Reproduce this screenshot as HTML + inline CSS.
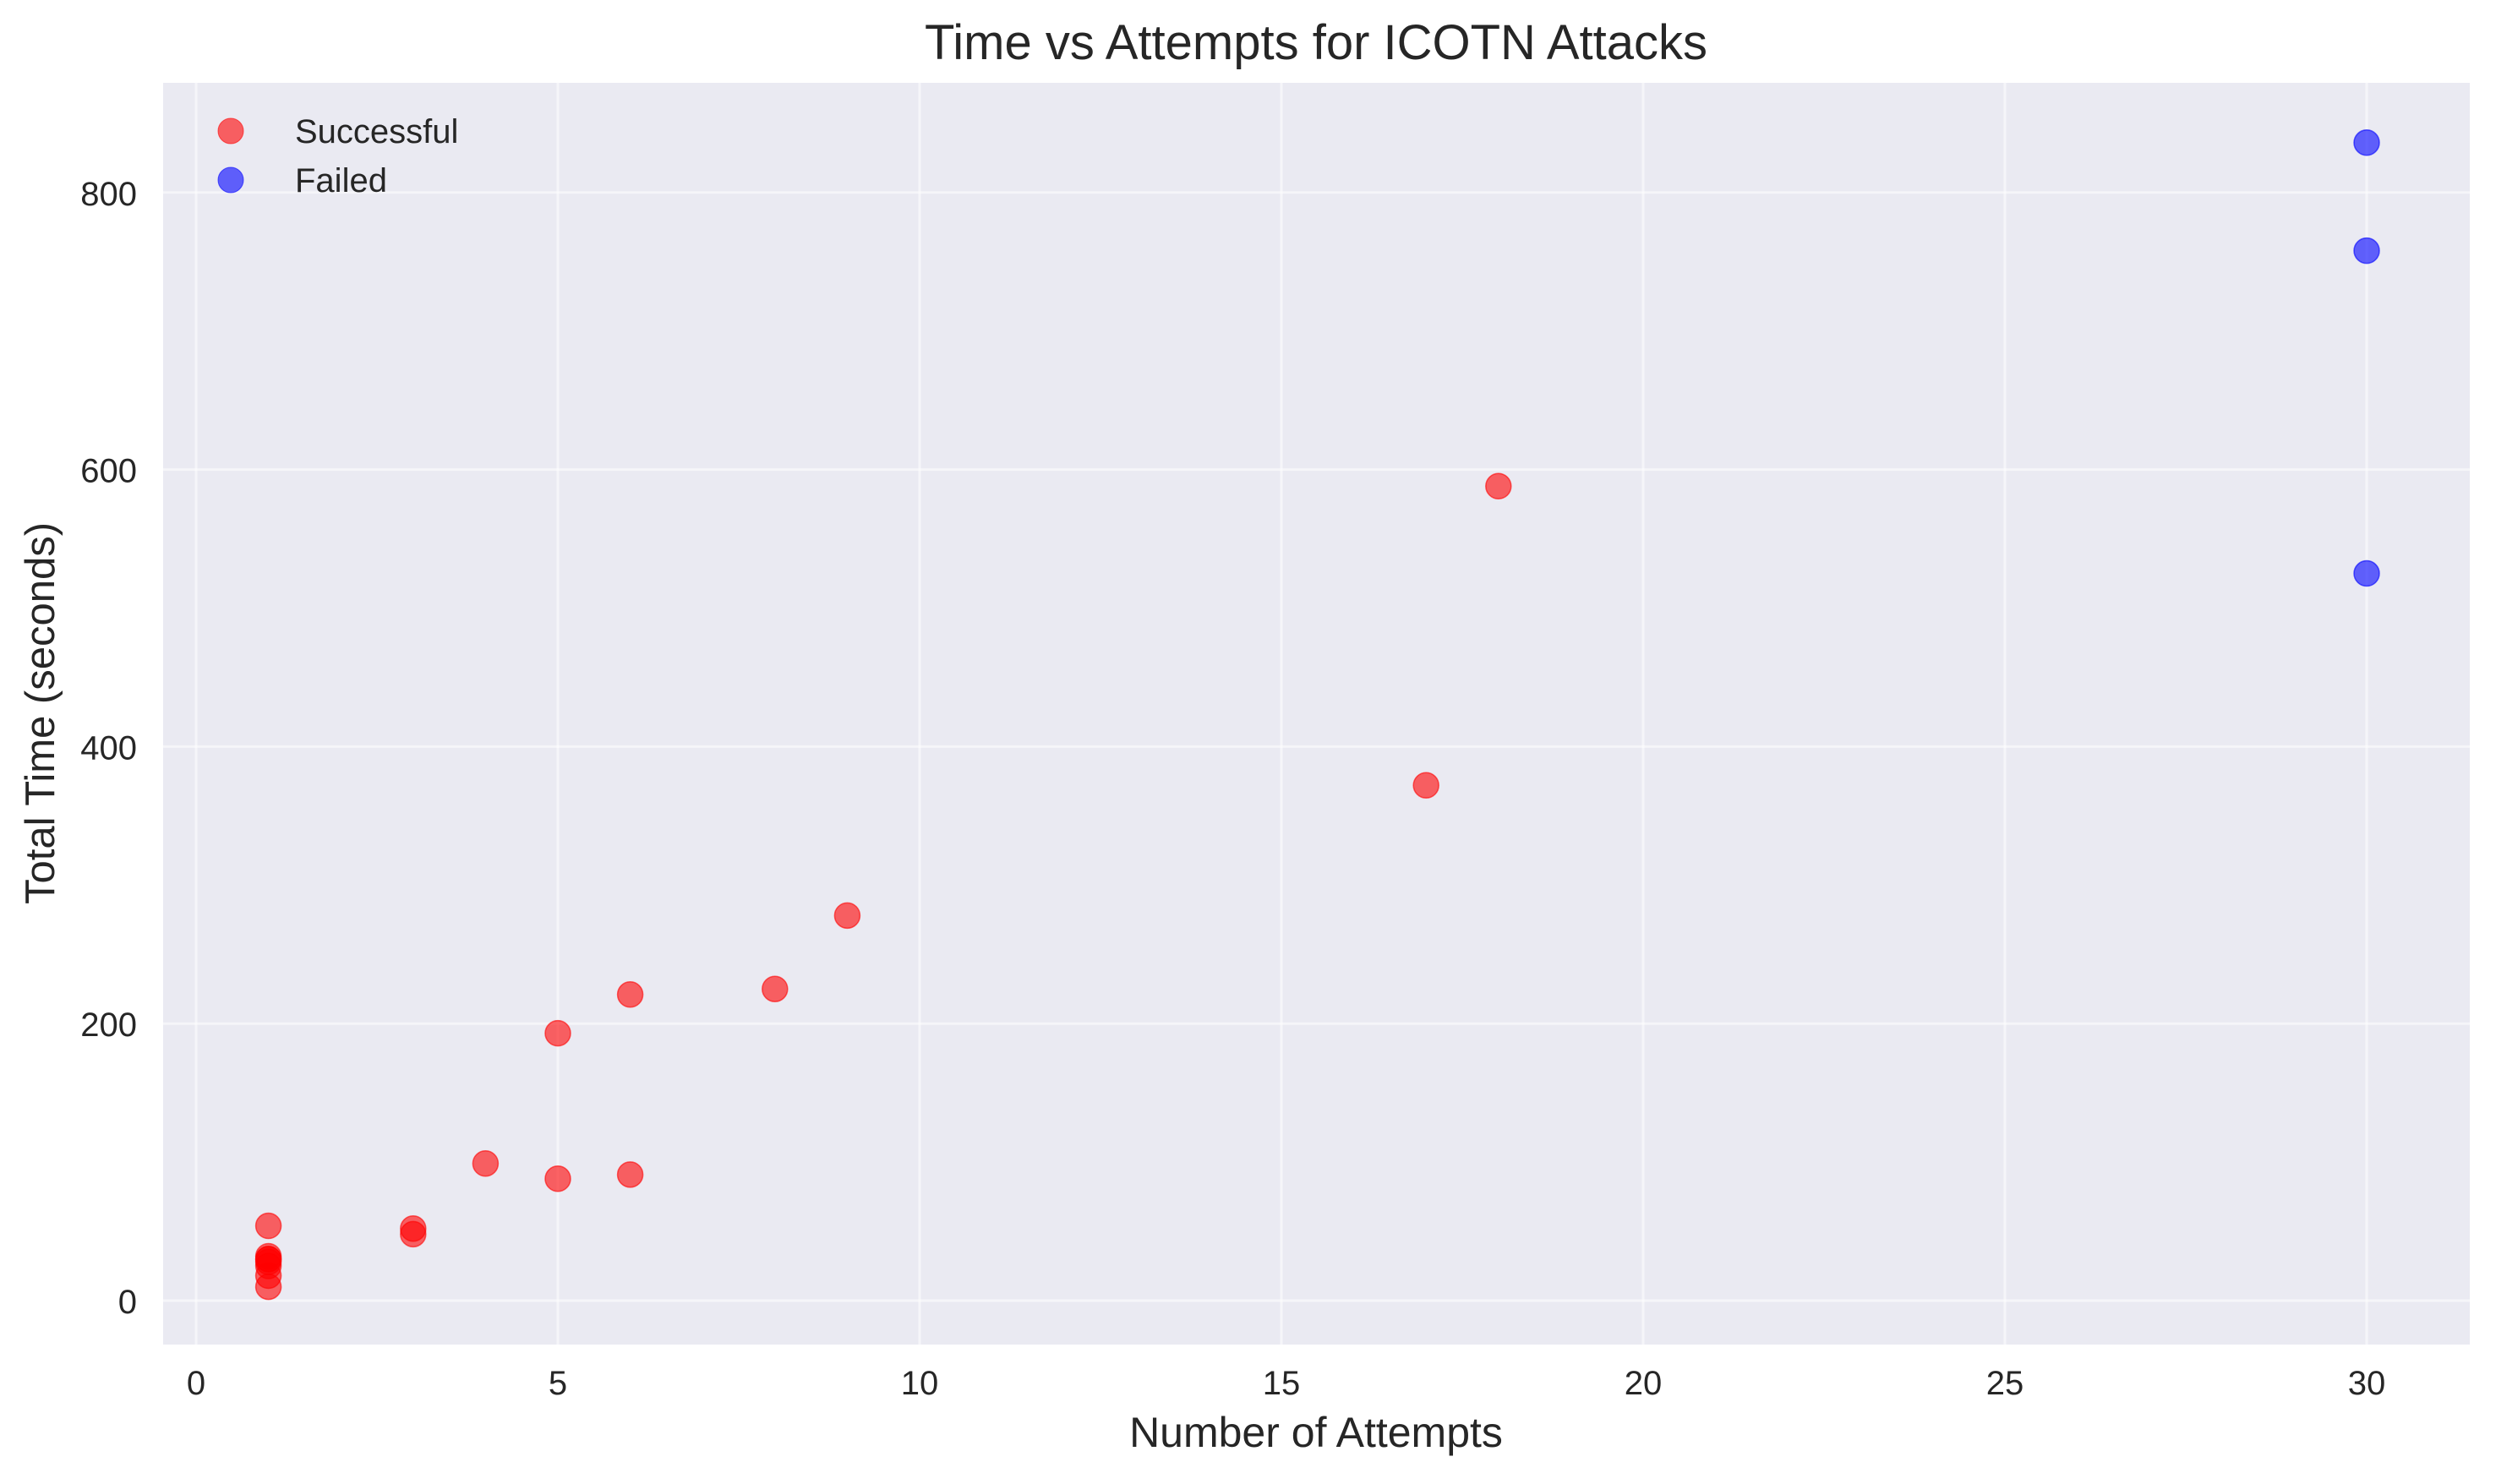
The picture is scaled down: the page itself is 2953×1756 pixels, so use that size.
<!DOCTYPE html>
<html><head><meta charset="utf-8"><style>
body{margin:0;background:#fff}
text{font-family:"Liberation Sans",sans-serif;fill:#262626}
</style></head><body>
<svg id="chart" width="2953" height="1751" xmlns="http://www.w3.org/2000/svg">
<rect x="193" y="98" width="2729" height="1493" fill="#eaeaf2"/>
<g id="grid"></g>
<g id="ticks"></g>
<g id="points"></g>
<text x="1557" y="70" font-size="58" text-anchor="middle">Time vs Attempts for ICOTN Attacks</text>
<text x="1557" y="1712" font-size="50" text-anchor="middle">Number of Attempts</text>
<text x="0" y="0" font-size="49" text-anchor="middle" transform="translate(64,844) rotate(-90)">Total Time (seconds)</text>
<g>
<circle cx="273" cy="155" r="15" fill="#ff0000" fill-opacity="0.6" stroke="#ff0000" stroke-opacity="0.6"/>
<text x="349" y="169" font-size="40">Successful</text>
<circle cx="273" cy="213" r="15" fill="#0000ff" fill-opacity="0.6" stroke="#0000ff" stroke-opacity="0.6"/>
<text x="349" y="227" font-size="40">Failed</text>
</g>
</svg>
<script>
const xTicks=[0,5,10,15,20,25,30];
const yTicks=[0,200,400,600,800];
const successAttempts=[1,1,1,1,1,1,1,1,3,3,4,5,6,5,6,8,9,17,18];
const successTimes=[54,32,30,28,25,18,10,30,52,48,99,88,91,193,221,225,278,372,588];
const failedAttempts=[30,30,30];
const failedTimes=[836,758,525];
const NS="http://www.w3.org/2000/svg";
const xs=v=>232+v*85.6;
const ys=v=>1539-v*1.639;
const grid=document.getElementById('grid'),ticks=document.getElementById('ticks'),pts=document.getElementById('points');
function mk(tag,attrs,parent){const e=document.createElementNS(NS,tag);for(const k in attrs)e.setAttribute(k,attrs[k]);parent.appendChild(e);return e;}
xTicks.forEach(t=>{
 const l=mk('line',{x1:xs(t),x2:xs(t),y1:98,y2:1591,stroke:'#fff','stroke-width':3,'stroke-opacity':0.5},grid);
 
 
 const tx=mk('text',{x:xs(t),y:1650,'font-size':40,'text-anchor':'middle'},ticks);
 tx.textContent=t;
 
 
});
yTicks.forEach(t=>{
 const l=mk('line',{x1:193,x2:2922,y1:ys(t),y2:ys(t),stroke:'#fff','stroke-width':3,'stroke-opacity':0.5},grid);
 
 
 const tx=mk('text',{x:162,y:ys(t)+15,'font-size':40,'text-anchor':'end'},ticks);
 tx.textContent=t;
 
 
});
function drawSeries(xa,ya,color,name){
 xa.forEach((x,i)=>{
  const c=mk('circle',{cx:xs(x),cy:ys(ya[i]),r:15,fill:color,'fill-opacity':0.6,stroke:color,'stroke-opacity':0.6,'stroke-width':1.5},pts);
  
  
 });
}
drawSeries(successAttempts,successTimes,'#ff0000','successful-point');
drawSeries(failedAttempts,failedTimes,'#0000ff','failed-point');
</script>
</body></html>
